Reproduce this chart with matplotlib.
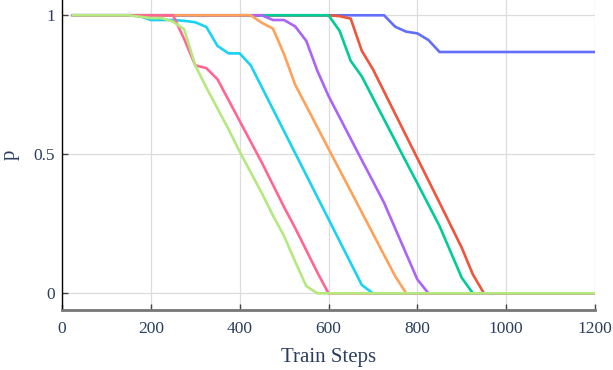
import numpy as np
import matplotlib
matplotlib.use("Agg")
import matplotlib.pyplot as plt

plt.rcParams['font.family'] = ['Liberation Serif', 'DejaVu Serif']

steps = np.arange(25, 1225, 25)

blue = [1.0] * 29 + [0.959, 0.941, 0.935, 0.911, 0.868] + [0.868] * 14
red = [1.0] * 24 + [0.997, 0.988, 0.872, 0.806, 0.726, 0.646, 0.566, 0.486,
                    0.406, 0.326, 0.245, 0.164, 0.068] + [0.0] * 11
green = [1.0] * 24 + [0.944, 0.836, 0.78, 0.703, 0.626, 0.549, 0.472, 0.396,
                      0.319, 0.242, 0.149, 0.056] + [0.0] * 12
purple = [1.0] * 18 + [0.983, 0.983, 0.96, 0.908, 0.80, 0.71, 0.633, 0.556,
                       0.479, 0.403, 0.326, 0.234, 0.142, 0.05] + [0.0] * 16
orange = [1.0] * 17 + [0.973, 0.952, 0.86, 0.75, 0.674, 0.597, 0.52, 0.444,
                       0.368, 0.291, 0.215, 0.138, 0.062] + [0.0] * 18
cyan = [1.0] * 6 + [0.997, 0.983, 0.983, 0.983, 0.98, 0.975, 0.958, 0.89,
                    0.863, 0.863, 0.82, 0.741, 0.662, 0.583, 0.504, 0.425,
                    0.346, 0.267, 0.188, 0.109, 0.03] + [0.0] * 21
pink = [1.0] * 10 + [0.915, 0.82, 0.81, 0.77, 0.695, 0.62, 0.545, 0.47,
                     0.39, 0.31, 0.235, 0.155, 0.075] + [0.0] * 25
lime = [1.0] * 6 + [0.995, 0.99, 0.99, 0.977, 0.95, 0.82, 0.74, 0.665, 0.59,
                    0.51, 0.435, 0.36, 0.28, 0.206, 0.114, 0.026] + [0.0] * 26

series = [blue, red, green, purple, orange, cyan, pink, lime]
colors = ['#636EFA', '#EF553B', '#00CC96', '#AB63FA',
          '#FFA15A', '#19D3F3', '#FF6692', '#B6E880']

text_color = '#2a3f5f'

fig = plt.figure(figsize=(6.13, 3.70), dpi=100)
ax = fig.add_axes([62 / 613, 60 / 370, 533 / 613, 310 / 370])

for vals, c in zip(series, colors):
    ax.plot(steps, vals, color=c, lw=1.9, solid_joinstyle='miter')

ax.set_xlim(0, 1200)
ax.set_ylim(-0.06, 1.055)
ax.set_xticks([0, 200, 400, 600, 800, 1000, 1200])
ax.set_yticks([0, 0.5, 1])
ax.set_yticklabels(['0', '0.5', '1'])
ax.grid(True, color='#dddddd', lw=0.9)
ax.set_axisbelow(True)

for s in ['top', 'right']:
    ax.spines[s].set_visible(False)
ax.spines['left'].set_color('black')
ax.spines['left'].set_linewidth(1.0)
ax.spines['bottom'].set_color('#777777')
ax.spines['bottom'].set_linewidth(2.0)

ax.tick_params(axis='both', direction='in', length=4, width=1, color='#444444',
               labelcolor=text_color, labelsize=12.5)
ax.tick_params(axis='x', pad=8)
ax.tick_params(axis='y', pad=5)

ax.set_xlabel('Train Steps', fontsize=15, color=text_color, labelpad=8)
ax.set_ylabel('p', fontsize=15, color=text_color, labelpad=10)

fig.savefig('out.png', dpi=100)
